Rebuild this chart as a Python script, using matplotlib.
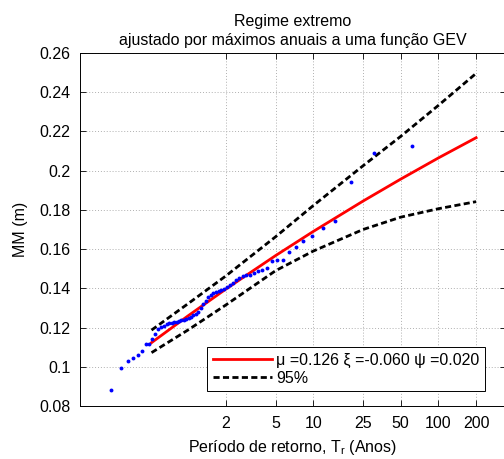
import numpy as np
import matplotlib
matplotlib.use("Agg")
import matplotlib.pyplot as plt

plt.rcParams.update({
    "font.family": ["Liberation Sans", "DejaVu Sans"],
    "font.size": 11.5,
    "mathtext.fontset": "custom",
    "mathtext.rm": "Liberation Sans",
    "mathtext.it": "Liberation Sans:italic",
    "xtick.direction": "in",
    "ytick.direction": "in",
    "xtick.top": True,
    "ytick.right": True,
})

# observed annual maxima: return period (years) and MM (m)
T_obs = [0.242, 0.291, 0.330, 0.365, 0.397, 0.428, 0.459, 0.488, 0.518, 0.548,
         0.578, 0.609, 0.640, 0.672, 0.705, 0.738, 0.773, 0.809, 0.846, 0.884,
         0.924, 0.965, 1.009, 1.054, 1.101, 1.151, 1.203, 1.258, 1.316, 1.378,
         1.443, 1.512, 1.586, 1.664, 1.749, 1.840, 1.937, 2.043, 2.157, 2.282,
         2.418, 2.567, 2.732, 2.916, 3.120, 3.350, 3.610, 3.908, 4.250, 4.649,
         5.123, 5.685, 6.378, 7.236, 8.347, 9.823, 11.89, 14.99, 20.16, 30.50,
         61.50]
MM_obs = [0.0880, 0.0996, 0.1031, 0.1045, 0.1062, 0.1082, 0.1115, 0.1118, 0.1140, 0.1165,
          0.1195, 0.1202, 0.1210, 0.1217, 0.1221, 0.1224, 0.1228, 0.1230, 0.1233, 0.1237,
          0.1241, 0.1245, 0.1250, 0.1256, 0.1262, 0.1270, 0.1280, 0.1300, 0.1322, 0.1335,
          0.1355, 0.1368, 0.1377, 0.1381, 0.1386, 0.1390, 0.1396, 0.1405, 0.1415, 0.1428,
          0.1440, 0.1455, 0.1462, 0.1466, 0.1468, 0.1478, 0.1488, 0.1493, 0.1505, 0.1540,
          0.1543, 0.1544, 0.1587, 0.1612, 0.1643, 0.1668, 0.1709, 0.1741, 0.1944, 0.2091,
          0.2126]

# fitted GEV and 95% band
T_fit = [0.51, 1, 2, 5, 10, 25, 50, 100, 200]
MM_fit = [0.1123, 0.1260, 0.1396, 0.1567, 0.1690, 0.1845, 0.1957, 0.2065, 0.2168]
MM_up = [0.1187, 0.1322, 0.1463, 0.1663, 0.1822, 0.2025, 0.2175, 0.2333, 0.2496]
MM_lo = [0.1072, 0.1188, 0.1315, 0.1490, 0.1590, 0.1700, 0.1763, 0.1806, 0.1842]

xticks = [2, 5, 10, 25, 50, 100, 200]
yticks = [0.08, 0.10, 0.12, 0.14, 0.16, 0.18, 0.20, 0.22, 0.24, 0.26]

fig = plt.figure(figsize=(5.04, 4.59), dpi=100)
ax = fig.add_axes([80/504, 53/459, 426/504, 353/459])

ax.plot(T_obs, MM_obs, "o", color="blue", markersize=2.8, markeredgewidth=0, zorder=4)
ax.plot(T_fit, MM_fit, "-", color="red", lw=2.0, zorder=3,
        label="\u03bc =0.126 \u03be =-0.060 \u03c8 =0.020")
ax.plot(T_fit, MM_up, "--", color="black", lw=2.0, dashes=(2.2, 1.2), zorder=3, label="95%")
ax.plot(T_fit, MM_lo, "--", color="black", lw=2.0, dashes=(2.2, 1.2), zorder=3)

ax.set_xscale("log")
ax.set_xlim(0.1368, 346.7)
ax.set_ylim(0.08, 0.26)
ax.set_xticks(xticks)
ax.set_xticklabels([str(t) for t in xticks])
ax.xaxis.set_minor_locator(matplotlib.ticker.NullLocator())
ax.set_yticks(yticks)
ax.set_yticklabels([f"{v:g}" for v in yticks])
ax.tick_params(length=4, width=0.6, pad=7)
ax.grid(True, ls=(0, (1, 2)), color="#b0b0b0", lw=0.7)
for s in ax.spines.values():
    s.set_linewidth(0.7)

ax.set_xlabel("Período de retorno, T$_\\mathrm{r}$ (Anos)", labelpad=5)
ax.set_ylabel("MM (m)", labelpad=8)
ax.set_title("Regime extremo\najustado por máximos anuais a uma função GEV",
             fontsize=11.5, pad=6, linespacing=1.3)

leg = ax.legend(loc="upper left", bbox_to_anchor=(0.298, 0.167), frameon=True,
                fancybox=False, edgecolor="black", framealpha=1, handlelength=3.7,
                borderaxespad=0, borderpad=0.35, labelspacing=0.2, handletextpad=0.3)
leg.get_frame().set_linewidth(0.7)

fig.savefig("out.png", dpi=100)
